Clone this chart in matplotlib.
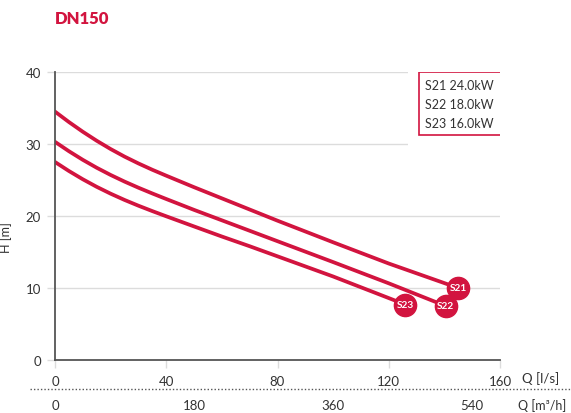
import matplotlib
matplotlib.use("Agg")
import matplotlib.pyplot as plt
from matplotlib.patches import Rectangle
from matplotlib.lines import Line2D
from matplotlib.transforms import blended_transform_factory

plt.rcParams['font.family'] = ['Lato', 'DejaVu Sans']

RED = '#D2143F'
GRID = '#DCDCDC'
TXT = '#333333'

# data (Q in l/s, H in m)
q_s21 = [0, 5, 10, 15, 20, 25, 30, 35, 40, 50, 60, 70, 80, 100, 120, 145]
h_s21 = [34.5, 33.05, 31.7, 30.45, 29.3, 28.25, 27.3, 26.42, 25.6, 24.0, 22.45, 20.9, 19.35, 16.35, 13.4, 10.0]
q_s22 = [0, 5, 10, 15, 20, 25, 30, 35, 40, 50, 60, 70, 80, 100, 120, 140.5]
h_s22 = [30.3, 29.0, 27.8, 26.7, 25.7, 24.78, 23.93, 23.13, 22.36, 20.85, 19.4, 17.95, 16.5, 13.6, 10.65, 7.5]
q_s23 = [0, 5, 10, 15, 20, 25, 30, 35, 40, 50, 60, 70, 80, 100, 126]
h_s23 = [27.5, 26.25, 25.1, 24.05, 23.1, 22.23, 21.43, 20.68, 19.96, 18.55, 17.15, 15.8, 14.4, 11.6, 7.7]
series_names = ['S21', 'S22', 'S23']
legend_labels = ['S21 24.0kW', 'S22 18.0kW', 'S23 16.0kW']
x_ticks = [0, 40, 80, 120, 160]
y_ticks = [0, 10, 20, 30, 40]
m3h_ticks = [0, 180, 360, 540]

W, H = 571, 414
fig = plt.figure(figsize=(W / 100, H / 100), dpi=100)
ax = fig.add_axes([55 / W, 1 - 361 / H, 445 / W, 288 / H])
ax.set_xlim(0, 160)
ax.set_ylim(0, 40)

for y in y_ticks[1:]:
    ax.axhline(y, color=GRID, lw=1, zorder=1)

for q, h, name in zip([q_s21, q_s22, q_s23], [h_s21, h_s22, h_s23], series_names):
    ax.plot(q, h, color=RED, lw=2.7, solid_capstyle='round',
            solid_joinstyle='round', zorder=3)
    ax.plot(q[-1], h[-1], 'o', ms=16, color=RED, zorder=4, clip_on=False)
    ax.text(q[-1], h[-1], name, color='white', fontsize=7.3, fontweight='bold',
            ha='center', va='center', zorder=5)

for s in ['top', 'right']:
    ax.spines[s].set_visible(False)
for s in ['left', 'bottom']:
    ax.spines[s].set_color('#555555')
    ax.spines[s].set_linewidth(1.3)
ax.spines['left'].set_zorder(6)
ax.spines['bottom'].set_zorder(6)

ax.set_xticks(x_ticks)
ax.set_yticks(y_ticks)
ax.tick_params(axis='both', colors=GRID, length=6, width=1, labelcolor=TXT,
               labelsize=9.5)
ax.tick_params(axis='x', pad=5)
ax.tick_params(axis='y', pad=4)
ax.set_ylabel('H [m]', fontsize=9, color=TXT)
ax.yaxis.set_label_coords(-0.097, 0.427)

# legend box with white margin covering gridlines
ax.add_patch(Rectangle((408 / W, 1 - 150 / H), 100 / W, 85 / H,
                       transform=fig.transFigure, facecolor='white',
                       edgecolor='none', zorder=2))
ax.add_patch(Rectangle((419 / W, 1 - 136 / H), 83 / W, 63 / H,
                       transform=fig.transFigure, facecolor='white',
                       edgecolor=RED, lw=1.2, zorder=2.5))
for i, lab in enumerate(legend_labels):
    fig.text(425 / W, 1 - (86 + i * 19) / H, lab, fontsize=9, color=TXT,
             ha='left', va='center', zorder=6)

# title
fig.text(55 / W, 1 - 19 / H, 'DN150', fontsize=12, fontweight='heavy',
         color=RED, ha='left', va='center')

# axis unit labels
fig.text(522 / W, 1 - 379 / H, 'Q [l/s]', fontsize=9.5, color=TXT,
         ha='left', va='center')

# secondary axis m3/h
fig.add_artist(Line2D([30 / W, 1.0], [1 - 390 / H, 1 - 390 / H],
                      transform=fig.transFigure, color='#555555', lw=1,
                      linestyle=(0, (1, 1.5))))
tr = blended_transform_factory(ax.transData, fig.transFigure)
for v in m3h_ticks:
    fig.text(v / 3.6, 1 - 406 / H, str(v), transform=tr, fontsize=9.5,
             color=TXT, ha='center', va='center')
fig.text(566 / W, 1 - 406 / H, 'Q [m³/h]', fontsize=9, color=TXT,
         ha='right', va='center')

fig.savefig('out.png', dpi=100)
